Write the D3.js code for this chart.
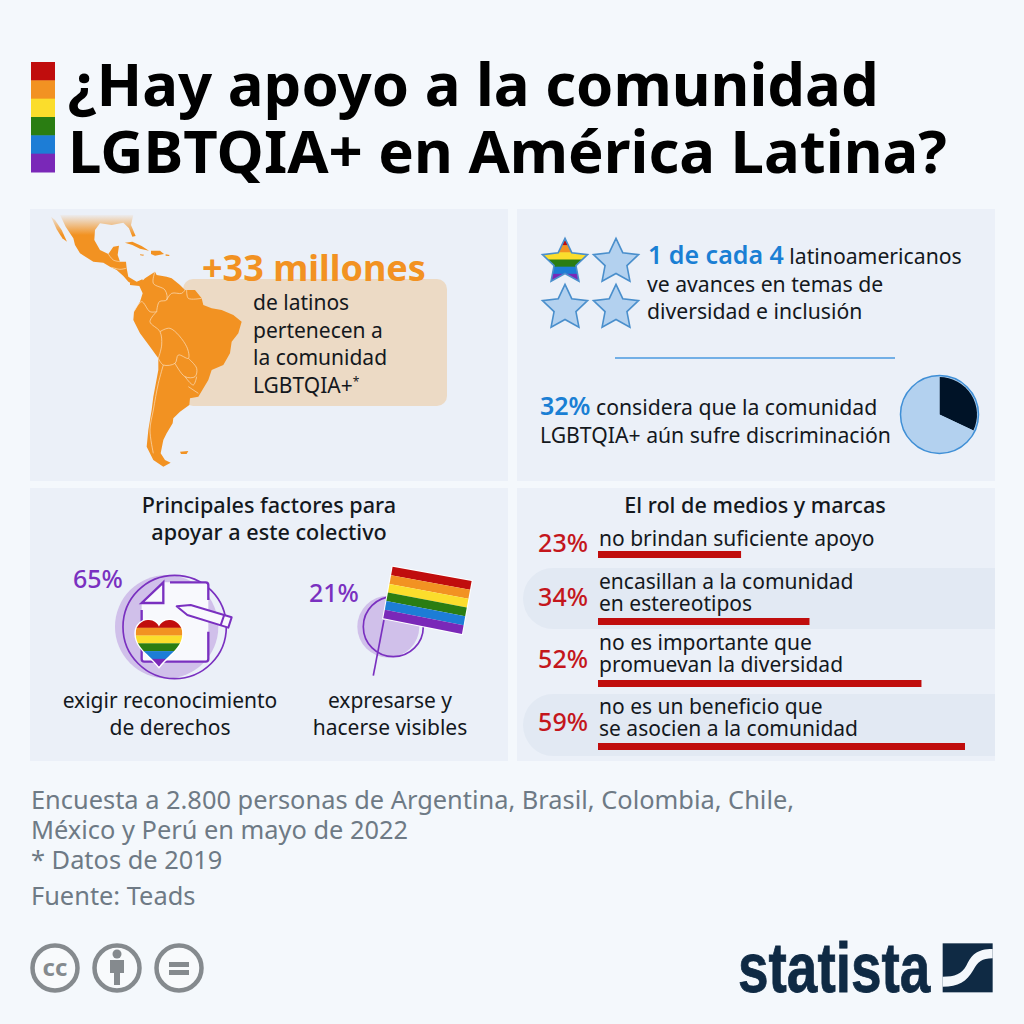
<!DOCTYPE html>
<html>
<head>
<meta charset="utf-8">
<script src="https://cdn.jsdelivr.net/npm/d3@7"></script>
<style>
  body { margin: 0; background: #f4f8fc; }
  text { font-family: "Noto Sans", "Open Sans", sans-serif; }
</style>
</head>
<body>
<div id="chart"></div>
<script>
// Data
const titleLines = ["¿Hay apoyo a la comunidad", "LGBTQIA+ en América Latina?"];
const rainbow = ["#c00d0d", "#f29222", "#fbdd2c", "#2a7d12", "#1d7dd6", "#7a28b8"];

const starsTotal = 4;
const starsHighlighted = 1;
const discriminationShare = [32, 68];

const factorValues = [65, 21];
const factorLabels = [
  ["exigir reconocimiento", "de derechos"],
  ["expresarse y", "hacerse visibles"]
];

const mediaValues = [23, 34, 52, 59];
const mediaLabels = [
  ["no brindan suficiente apoyo"],
  ["encasillan a la comunidad", "en estereotipos"],
  ["no es importante que", "promuevan la diversidad"],
  ["no es un beneficio que", "se asocien a la comunidad"]
];

const footerLines = [
  "Encuesta a 2.800 personas de Argentina, Brasil, Colombia, Chile,",
  "México y Perú en mayo de 2022",
  "* Datos de 2019"
];
const sourceLine = "Fuente: Teads";

// Colours
const ink = "#14181d";
const orange = "#f29222";
const blue = "#1a7fd4";
const purple = "#7a30c0";
const red = "#c4161c";
const navy = "#0f2a44";
const grey = "#6e7a85";
const pageBg = "#f4f8fc";

const svg = d3.select("#chart").append("svg").attr("width", 1024).attr("height", 1024);
svg.append("rect").attr("width", 1024).attr("height", 1024).attr("fill", pageBg);
const defs = svg.append("defs");

function addText(parent, str, x, y, size, opts = {}) {
  return parent.append("text")
    .attr("x", x).attr("y", y)
    .attr("font-size", size)
    .attr("font-weight", opts.weight || 400)
    .attr("fill", opts.fill || ink)
    .attr("text-anchor", opts.anchor || "start")
    .text(str);
}

// Rainbow stripes clipped to any shape
function stripes(parent, x, y, w, h, clipId) {
  const yScale = d3.scaleBand().domain(d3.range(rainbow.length)).range([y, y + h]);
  parent.append("g").attr("clip-path", clipId ? `url(#${clipId})` : null)
    .selectAll("rect").data(rainbow).enter().append("rect")
    .attr("x", x).attr("y", (d, i) => yScale(i))
    .attr("width", w).attr("height", yScale.bandwidth() + 0.5)
    .attr("fill", d => d);
}

// Header
stripes(svg, 31, 62, 24, 110);
titleLines.forEach((t, i) => addText(svg, t, 68, 106 + i * 67, 59.8, { weight: 700, fill: "#000" }));

// Panels
const panels = [[30, 209, 478, 272], [517, 209, 478, 272], [30, 488, 478, 273], [517, 488, 478, 273]];
svg.selectAll("rect.panel").data(panels).enter().append("rect")
  .attr("class", "panel")
  .attr("x", d => d[0]).attr("y", d => d[1])
  .attr("width", d => d[2]).attr("height", d => d[3])
  .attr("fill", "#ebf0f8");

// Top left: map
svg.append("rect").attr("x", 183).attr("y", 279).attr("width", 264).attr("height", 127)
  .attr("rx", 10).attr("fill", "#ecdac5");

const fade = defs.append("linearGradient").attr("id", "mapFade")
  .attr("gradientUnits", "userSpaceOnUse")
  .attr("x1", 0).attr("y1", 12).attr("x2", 0).attr("y2", 75);
fade.append("stop").attr("offset", 0).attr("stop-color", orange).attr("stop-opacity", 0);
fade.append("stop").attr("offset", 1).attr("stop-color", orange);

const closed = d3.line().curve(d3.curveLinearClosed);
const open = d3.line().curve(d3.curveCatmullRom);

// Mexico, Central America and the Caribbean
const northG = svg.append("g").attr("transform", "translate(45,210) scale(0.3333)");
const northLand = [[45,14],[265,14],[258,45],[272,78],[262,80],[252,55],[235,38],[200,45],[165,40],[150,60],[148,90],[165,120],[190,132],[205,110],[222,107],[218,135],[225,155],[243,155],[245,175],[250,200],[275,215],[292,208],[300,225],[280,225],[262,222],[250,215],[235,198],[215,180],[195,170],[175,158],[145,155],[105,130],[90,105],[85,85],[62,50]];
const bajaLand = [[18,20],[30,30],[50,60],[66,95],[52,85],[35,58]];
const islands = [
  [[240,98],[262,95],[290,108],[312,122],[285,116],[262,105]],
  [[318,122],[345,122],[357,132],[330,137],[318,132]],
  [[362,133],[374,135],[372,138],[362,137]],
  [[285,133],[297,134],[295,137],[286,136]]
];
northG.append("path").attr("d", closed(northLand)).attr("fill", "url(#mapFade)");
northG.append("path").attr("d", closed(bajaLand)).attr("fill", "url(#mapFade)");
northG.selectAll("path.island").data(islands).enter().append("path")
  .attr("class", "island").attr("d", closed).attr("fill", orange);
northG.append("path").attr("d", open([[190,132],[205,150],[225,155]]))
  .attr("fill", "none").attr("stroke", "#fbe3c6").attr("stroke-width", 2);
northG.append("path").attr("d", open([[200,172],[225,178],[243,175]]))
  .attr("fill", "none").attr("stroke", "#fbe3c6").attr("stroke-width", 2);

// South America
const southG = svg.append("g").attr("transform", "translate(130,270) scale(0.3333)");
const southLand = [[0,38],[20,42],[30,40],[45,25],[60,15],[75,5],[80,15],[110,20],[125,25],[150,45],[165,60],[195,60],[215,85],[220,105],[245,115],[275,120],[310,135],[335,155],[325,190],[305,215],[300,250],[280,285],[245,300],[235,330],[205,380],[180,385],[178,405],[150,425],[130,445],[128,460],[110,490],[100,510],[92,550],[105,570],[122,578],[100,590],[70,570],[50,530],[55,480],[65,420],[70,380],[85,300],[85,265],[60,230],[30,190],[10,150],[12,125],[30,95],[38,70],[28,48],[0,45]];
const falklands = [[150,545],[175,543],[170,552],[153,552]];
southG.append("path").attr("d", closed(southLand)).attr("fill", orange);
southG.append("path").attr("d", closed(falklands)).attr("fill", orange);

const borders = [
  [[75,5],[70,40],[105,60],[110,90],[88,95],[80,125]],
  [[110,90],[125,70],[155,70],[165,60]],
  [[170,60],[175,85],[215,85]],
  [[12,125],[35,95],[60,125],[80,125]],
  [[80,125],[60,155],[90,185],[95,225],[85,265]],
  [[90,185],[120,175],[170,230],[175,265],[145,255],[135,280],[100,285],[85,265]],
  [[135,280],[165,320],[195,320],[200,295],[175,265]],
  [[100,285],[85,340],[70,420],[60,480],[70,550]],
  [[165,320],[190,345],[200,320]],
  [[175,350],[205,370]]
];
southG.selectAll("path.border").data(borders).enter().append("path")
  .attr("class", "border")
  .attr("d", open)
  .attr("fill", "none").attr("stroke", "#fbe3c6").attr("stroke-width", 2);

addText(svg, "+33 millones", 202, 281, 36, { weight: 700, fill: orange });
["de latinos", "pertenecen a", "la comunidad"].forEach((t, i) => addText(svg, t, 253, 310 + i * 27.5, 21));
const lg = addText(svg, "LGBTQIA+", 253, 393, 21);
lg.append("tspan").attr("font-size", 12).attr("dy", -7).text("*");

// Top right: stars, fatter than d3.symbolStar
const starPositions = d3.range(starsTotal).map(i => ({ col: i % 2, row: Math.floor(i / 2), on: i < starsHighlighted }));
const starX = d3.scalePoint().domain([0, 1]).range([565, 616]);
const starY = d3.scalePoint().domain([0, 1]).range([262, 308]);
const starPath = d3.lineRadial()
  .angle(i => i * Math.PI / 5)
  .radius(i => (i % 2 === 0 ? 23.7 : 11.5))
  .curve(d3.curveLinearClosed)(d3.range(10));
defs.append("clipPath").attr("id", "starClip").append("path").attr("d", starPath);
const stars = svg.selectAll("g.star").data(starPositions).enter().append("g")
  .attr("class", "star")
  .attr("transform", d => `translate(${starX(d.col)},${starY(d.row)})`);
stars.append("path").attr("d", starPath).attr("fill", "#b3d1ef");
stars.filter(d => d.on).each(function () { stripes(d3.select(this), -25, -24, 50, 43, "starClip"); });
stars.append("path").attr("d", starPath).attr("fill", "none").attr("stroke", "#4a8fcc").attr("stroke-width", 1.6);

const oneIn4 = addText(svg, "1 de cada 4", 648, 264, 25, { weight: 600, fill: blue });
oneIn4.append("tspan").attr("font-size", 21.2).attr("font-weight", 400).attr("fill", ink).text(" latinoamericanos");
addText(svg, "ve avances en temas de", 647, 292, 21.2);
addText(svg, "diversidad e inclusión", 647, 319, 21.2);

svg.append("line").attr("x1", 615).attr("x2", 895).attr("y1", 358).attr("y2", 358)
  .attr("stroke", "#4a9ae0").attr("stroke-width", 1.6);

const share = addText(svg, "32%", 540, 415, 25, { weight: 600, fill: blue });
share.append("tspan").attr("font-size", 21.2).attr("font-weight", 400).attr("fill", ink).text(" considera que la comunidad");
addText(svg, "LGBTQIA+ aún sufre discriminación", 540, 443, 21.2);

// Pie
const pieG = svg.append("g").attr("transform", "translate(939.5,414.5)");
const pie = d3.pie().sort(null)(discriminationShare);
const arc = d3.arc().innerRadius(0).outerRadius(37.5);
pieG.append("circle").attr("r", 39).attr("fill", "#b3d1ef").attr("stroke", "#3f8fd6").attr("stroke-width", 1.5);
pieG.selectAll("path").data(pie).enter().append("path")
  .attr("d", arc)
  .attr("fill", (d, i) => i === 0 ? "#001327" : "#b3d1ef");

// Bottom left: factors
addText(svg, "Principales factores para", 269, 513, 21.6, { weight: 500, anchor: "middle" });
addText(svg, "apoyar a este colectivo", 269, 540, 21.6, { weight: 500, anchor: "middle" });

const factorX = [170, 390];
const factorPctX = [73, 309];
const factorPctY = [588, 602];
factorValues.forEach((v, i) => addText(svg, `${v}%`, factorPctX[i], factorPctY[i], 25, { weight: 500, fill: purple }));
factorLabels.forEach((lines, i) => lines.forEach((t, j) =>
  addText(svg, t, factorX[i], 708 + j * 27, 21, { anchor: "middle" })));

// Document icon
const docG = svg.append("g").attr("transform", "translate(30,485) scale(0.3333)");
docG.append("circle").attr("cx", 410).attr("cy", 425).attr("r", 155).attr("fill", "#d0c0ea");
docG.append("circle").attr("cx", 434).attr("cy", 426).attr("r", 155).attr("fill", "none").attr("stroke", purple).attr("stroke-width", 5);
docG.append("path")
  .attr("d", "M400,292 L527,292 Q535,292 535,300 L535,522 Q535,530 527,530 L343,530 Q335,530 335,522 L335,355 Z")
  .attr("fill", "#f8f9fd");
docG.append("path")
  .attr("d", "M420,292 L527,292 Q535,292 535,300 L535,345 M535,440 L535,522 Q535,530 527,530 L343,530 Q335,530 335,522 L335,375 M400,292 L335,354 L400,354 Z")
  .attr("fill", "none").attr("stroke", purple).attr("stroke-width", 7);
docG.append("path")
  .attr("d", "M440,364 L482,360 L605,397 L595,428 L472,390 Z M582,392 L572,421")
  .attr("fill", "#f8f9fd").attr("stroke", purple).attr("stroke-width", 6).attr("stroke-linejoin", "round");

// Heart
const heartPath = "M387,545 C360,510 317,490 317,445 C317,420 338,405 355,405 C370,405 382,413 387,425 C392,413 404,405 419,405 C436,405 457,420 457,445 C457,490 414,510 387,545 Z";
defs.append("clipPath").attr("id", "heartClip").append("path").attr("d", heartPath);
docG.append("path").attr("d", heartPath).attr("fill", "#fff").attr("stroke", "#fff").attr("stroke-width", 8);
stripes(docG, 310, 405, 155, 140, "heartClip");

// Flag icon
const flagG = svg.append("g").attr("transform", "translate(30,485) scale(0.3333)");
flagG.append("circle").attr("cx", 1075).attr("cy", 425).attr("r", 93).attr("fill", "#d0c0ea");
flagG.append("circle").attr("cx", 1090).attr("cy", 425).attr("r", 90).attr("fill", "none").attr("stroke", purple).attr("stroke-width", 5);
flagG.append("line").attr("x1", 1062).attr("y1", 405).attr("x2", 1030).attr("y2", 572)
  .attr("stroke", purple).attr("stroke-width", 5);
const topLeft = [1088, 245], topRight = [1325, 288], botRight = [1296, 447], botLeft = [1060, 400];
flagG.append("polygon").attr("points", [topLeft, topRight, botRight, botLeft].join(" "))
  .attr("fill", "#fff").attr("stroke", "#fff").attr("stroke-width", 6);
const lerp = (a, b, t) => [a[0] + (b[0] - a[0]) * t, a[1] + (b[1] - a[1]) * t];
const flagT = d3.scaleLinear().domain([0, rainbow.length]).range([0, 1]);
flagG.selectAll("polygon.stripe").data(rainbow).enter().append("polygon")
  .attr("class", "stripe")
  .attr("points", (d, i) => [
    lerp(topLeft, botLeft, flagT(i)), lerp(topRight, botRight, flagT(i)),
    lerp(topRight, botRight, flagT(i + 1)), lerp(topLeft, botLeft, flagT(i + 1))
  ].join(" "))
  .attr("fill", d => d);

// Bottom right: media and brands
addText(svg, "El rol de medios y marcas", 755, 513, 21.6, { weight: 500, anchor: "middle" });

// Alternating bands, rounded on the left only
[[568, 61], [694, 62]].forEach(b => {
  const r = 30;
  svg.append("path")
    .attr("d", `M995,${b[0]} L${523 + r},${b[0]} A${r},${b[1] / 2} 0 0 0 ${523 + r},${b[0] + b[1]} L995,${b[0] + b[1]} Z`)
    .attr("fill", "#e2e9f3");
});

const xScale = d3.scaleLinear().domain([0, 59]).range([598, 965]);
const barTop = [551, 618, 680, 743];
const pctBase = [552, 606, 668, 731];
const labelBase = [[546], [589, 611], [650, 672], [714, 736]];

svg.selectAll("rect.bar").data(mediaValues).enter().append("rect")
  .attr("class", "bar")
  .attr("x", xScale(0))
  .attr("y", (d, i) => barTop[i])
  .attr("width", d => xScale(d) - xScale(0))
  .attr("height", 7)
  .attr("fill", "#c00d0d");

mediaValues.forEach((v, i) => addText(svg, `${v}%`, 588, pctBase[i], 25, { weight: 500, fill: red, anchor: "end" }));
mediaLabels.forEach((lines, i) => lines.forEach((t, j) => addText(svg, t, 599, labelBase[i][j], 21)));

// Footer
footerLines.forEach((t, i) => addText(svg, t, 31, 809 + i * 30, 25.4, { fill: grey }));
addText(svg, sourceLine, 31, 905, 25.4, { fill: grey });

// Licence icons
const iconX = d3.scalePoint().domain([0, 1, 2]).range([55, 179]);
const icons = svg.selectAll("g.cc").data([0, 1, 2]).enter().append("g")
  .attr("class", "cc")
  .attr("transform", d => `translate(${iconX(d)},968)`);
icons.append("circle").attr("r", 22.5).attr("fill", "#f8fafc").attr("stroke", "#858a8e").attr("stroke-width", 4.5);
addText(icons.filter(d => d === 0), "cc", 0, 8, 24, { weight: 700, fill: "#858a8e", anchor: "middle" });
const person = icons.filter(d => d === 1);
person.append("circle").attr("cy", -14).attr("r", 4.5).attr("fill", "#858a8e");
person.append("path").attr("d", "M-7,-8 H7 V5 H3 V17 H-3 V5 H-7 Z").attr("fill", "#858a8e");
const equal = icons.filter(d => d === 2);
[-6, 2].forEach(y => equal.append("rect").attr("x", -10).attr("y", y).attr("width", 20).attr("height", 5).attr("fill", "#858a8e"));

// Logo
addText(svg, "statista", 0, 0, 70, { weight: 700, fill: navy })
  .attr("transform", "translate(738,992) scale(0.785,1)")
  .attr("stroke", navy).attr("stroke-width", 0.8)
  .style("font-family", "'Liberation Sans',sans-serif");
const logoG = svg.append("g").attr("transform", "translate(930,935) scale(0.3333)");
logoG.append("rect").attr("x", 38).attr("y", 25).attr("width", 150).attr("height", 147).attr("fill", navy);
logoG.append("path")
  .attr("d", "M188,42 C140,42 125,60 110,90 C95,118 75,125 38,125 L38,155 C85,155 110,140 130,105 C145,80 155,70 188,70 Z")
  .attr("fill", pageBg);
</script>
</body>
</html>
